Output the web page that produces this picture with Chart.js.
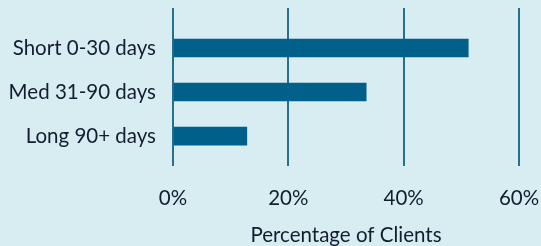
<!DOCTYPE html>
<html>
<head>
<meta charset="utf-8">
<script src="https://cdn.jsdelivr.net/npm/chart.js@4/dist/chart.umd.min.js"></script>
<style>
  html, body { margin: 0; padding: 0; background: #d8edf2; }
  #wrap { width: 541px; height: 246px; position: relative; }
</style>
</head>
<body>
<div id="wrap"><canvas id="chart"></canvas></div>
<script>
const categories = ['Short 0-30 days', 'Med 31-90 days', 'Long 90+ days'];
const clientShare = [51.2, 33.5, 12.8];
const xTicks = [0, 20, 40, 60];

const textColor = '#121e30';
const font = { family: 'Lato', size: 20.5 };

const ctx = document.getElementById('chart').getContext('2d');
new Chart(ctx, {
    type: 'bar',
    data: {
        datasets: [{
            label: 'Percentage of Clients',
            data: clientShare.map((v, i) => ({ x: v, y: i })),
            backgroundColor: '#00608a',
            borderWidth: 0,
            barThickness: 18
        }]
    },
    options: {
        indexAxis: 'y',
        responsive: true,
        maintainAspectRatio: false,
        animation: false,
        layout: { padding: { top: 8, right: 22, left: 0, bottom: 0 } },
        plugins: {
            legend: { display: false },
            tooltip: { enabled: false }
        },
        scales: {
            x: {
                type: 'linear',
                min: 0,
                max: 60,
                afterBuildTicks: s => { s.ticks = xTicks.map(v => ({ value: v })); },
                afterFit: s => {
                    s.height = 80;
                    s.paddingLeft = 0;
                    s.paddingRight = 0;
                },
                grid: { color: '#266f8f', lineWidth: 2, drawTicks: false },
                border: { display: false },
                ticks: {
                    color: textColor,
                    font: font,
                    padding: 20,
                    callback: v => v + '%'
                },
                title: {
                    display: true,
                    text: 'Percentage of Clients',
                    color: textColor,
                    font: font,
                    padding: { top: 4, bottom: -2 }
                }
            },
            y: {
                type: 'linear',
                reverse: true,
                offset: false,
                min: -0.909,
                max: 2.68,
                afterBuildTicks: s => { s.ticks = categories.map((c, i) => ({ value: i })); },
                afterFit: s => {
                    s.width = 173;
                    s.paddingTop = 0;
                    s.paddingBottom = 0;
                },
                grid: { display: false },
                border: { display: false },
                ticks: {
                    color: textColor,
                    font: font,
                    padding: 9,
                    callback: v => categories[v]
                }
            }
        }
    }
});
</script>
</body>
</html>
